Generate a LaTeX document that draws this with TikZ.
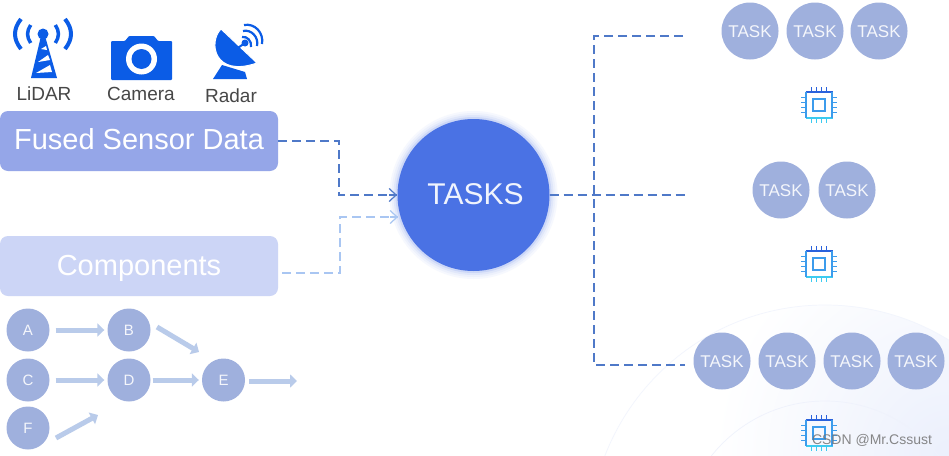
\documentclass[tikz,border=0pt]{standalone}
\usepackage{fontspec}
\setmainfont{Liberation Sans}
\usetikzlibrary{arrows.meta,calc}
\definecolor{icon}{HTML}{0B5CE6}
\definecolor{fused}{HTML}{95A6E8}
\definecolor{comp}{HTML}{CCD5F6}
\definecolor{disc}{HTML}{9FB0DD}
\definecolor{hub}{HTML}{4A72E4}
\definecolor{dashdark}{HTML}{4F79C8}
\definecolor{dashlight}{HTML}{A9C6F2}
\definecolor{flow}{HTML}{B9CBEA}
\definecolor{chiptop}{HTML}{2A62DC}
\definecolor{chipmid}{HTML}{3C9CEC}
\definecolor{chipbot}{HTML}{3CCBF0}
\tikzset{
  databox/.style={rounded corners=8pt,minimum width=278pt,minimum height=60pt,inner sep=0pt,text=white,font=\fontsize{29}{29}\selectfont},
  letter/.style={circle,fill=disc,minimum size=43pt,inner sep=0pt,text=white!88!disc,font=\fontsize{15}{15}\selectfont},
  taskdisc/.style={circle,fill=disc,minimum size=57pt,inner sep=0pt,text=white!88!disc,text height=14pt,font=\fontsize{17}{17}\selectfont},
  icontext/.style={text=black!72,inner sep=0pt,font=\fontsize{19}{19}\selectfont},
  darkdash/.style={dashdark,line width=1.3pt,dash pattern=on 9pt off 5pt},
  lightdash/.style={dashlight,line width=1.3pt,dash pattern=on 9pt off 5pt},
  flowarrow/.style={flow,line width=5pt,-{Triangle[length=7pt,width=13pt]}},
  chip/.pic={
    \foreach \k in {-7.5,-2.5,2.5,7.5}{
      \draw[chiptop,line width=1.1pt] (\k,-18) -- (\k,-13);
      \draw[chipbot,line width=1.1pt] (\k,13) -- (\k,18);
      \draw[chipmid,line width=1.1pt] (-18,\k) -- (-13,\k);
      \draw[chipmid,line width=1.1pt] (13,\k) -- (18,\k);
    }
    \draw[chiptop,line width=1.5pt] (-13.5,-13) -- (13.5,-13);
    \draw[chipbot,line width=1.5pt] (-13.5,13) -- (13.5,13);
    \draw[chipmid,line width=1.5pt] (-13,-13) -- (-13,13);
    \draw[chipmid,line width=1.5pt] (13,-13) -- (13,13);
    \draw[chipmid,line width=1.3pt] (-6,-6) rectangle (6,6);
  }
}

\begin{document}
\begin{tikzpicture}[x=1pt,y=-1pt]
  \useasboundingbox (0,0) rectangle (949,455);
  \fill[white] (0,0) rectangle (949,455);

  % pale corner, bottom right, with two faint arcs
  \begin{scope}
    \clip (825,541) circle (236);
    \shade[inner color=hub!11!white,outer color=white] (949,455) circle (235);
  \end{scope}
  \begin{scope}
    \clip (0,0) rectangle (949,455);
    \draw[hub!7!white,line width=0.7pt] (825,541) circle (236);
    \draw[hub!9!white,line width=0.7pt] (825,546) circle (145);
  \end{scope}

  % sensor icons
  \fill[icon] (43,34) circle (5.5);
  \fill[icon] (41,36) -- (45,36) -- (57,78) -- (31,78) -- cycle;
  \fill[white] (41,49) -- (46,46) -- (47,50) -- cycle;
  \fill[white] (38,62) -- (48,55) -- (50,60) -- cycle;
  \fill[white] (36,73) -- (50,65) -- (52,72) -- cycle;
  \foreach \s in {-1,1}{
    \draw[icon,line width=3.5pt] ($(43,34)+(\s*12.3,-9)$) .. controls ($(43,34)+(\s*16.5,-3)$) and ($(43,34)+(\s*16.5,3)$) .. ($(43,34)+(\s*12.3,9)$);
    \draw[icon,line width=4pt] ($(43,34)+(\s*22,-15)$) .. controls ($(43,34)+(\s*30,-5)$) and ($(43,34)+(\s*30,5)$) .. ($(43,34)+(\s*22,15)$);
  }
  \fill[icon,rounded corners=1pt] (111,41) -- (125,41) -- (129,36) -- (154,36) -- (158,41) -- (172,41) -- (172,80) -- (111,80) -- cycle;
  \fill[white] (141.5,59) circle (15.5);
  \fill[icon] (141.5,59) circle (10);
  \fill[icon] (213,79) -- (222,65) -- (245,72) -- (247,79) -- cycle;
  \fill[icon,draw=white,line width=1pt] (221,29) .. controls (208,42) and (214,78) .. (257,63) -- cycle;
  \draw[icon,line width=2pt] (232,52) -- (245,43);
  \fill[icon] (245,43) circle (3.5);
  \draw[icon,line width=2.2pt] (242,37) .. controls (247,36) and (252,41) .. (251,47);
  \draw[icon,line width=2.2pt] (243,31) .. controls (251,29) and (259,37) .. (257,46);
  \draw[icon,line width=2.2pt] (244,25) .. controls (255,23) and (264,33) .. (262,44);
  \node[icontext] (lidar) at (44,94) {LiDAR};
  \node[icontext] (camera) at (141,94) {Camera};
  \node[icontext] (radar) at (231,96) {Radar};

  % left boxes
  \node[databox,fill=fused,text depth=4pt] (sensor) at (139,141) {Fused Sensor Data};
  \node[databox,fill=comp,text height=25pt] (parts) at (139,266) {Components};

  % small graph under the boxes
  \node[letter] (A) at (28,330) {A};
  \node[letter] (B) at (129,330) {B};
  \node[letter] (C) at (28,380) {C};
  \node[letter] (D) at (129,380) {D};
  \node[letter] (E) at (223.5,380) {E};
  \node[letter] (F) at (28,428) {F};
  \coordinate (Bfrom) at (157,327);
  \coordinate (Bout) at (199,352);
  \coordinate (Efrom) at (249,381);
  \coordinate (Eout) at (297,381);
  \coordinate (Ffrom) at (56,438);
  \coordinate (Fout) at (98,415);
  \draw[flowarrow,shorten <=6pt,shorten >=3pt] (A) -- (B);
  \draw[flowarrow,shorten <=6pt,shorten >=3pt] (C) -- (D);
  \draw[flowarrow,shorten <=2pt,shorten >=3pt] (D) -- (E);
  \draw[flowarrow] (Bfrom) -- (Bout);
  \draw[flowarrow] (Efrom) -- (Eout);
  \draw[flowarrow] (Ffrom) -- (Fout);

  % hub with its glow
  \foreach \r/\t in {84/5,82/10,80/17,78/28}{
    \fill[hub!\t!white] (473.5,195) circle (\r);
  }
  \node[circle,fill=hub,minimum size=152pt,inner sep=0pt,text=white!92!hub,text depth=2pt,font=\fontsize{30}{30}\selectfont] (tasks) at (473.5,195) {\hspace*{4pt}TASKS};

  % dashed links into the hub
  \coordinate (inA) at (397,195);
  \coordinate (inB) at (398,217);
  \coordinate (kneeA) at (339,141);
  \coordinate (kneeB) at (340,273);
  \draw[darkdash] (sensor.east |- kneeA) -- (kneeA) -- (kneeA |- inA) -- (inA);
  \draw[dashdark,line width=1.2pt,-{Straight Barb[length=7pt,width=13pt]}] ($(inA)+(-8,0)$) -- (inA);
  \draw[lightdash] (282,273) -- (kneeB) -- (kneeB |- inB) -- (inB);
  \draw[dashlight,line width=1.2pt,-{Straight Barb[length=7pt,width=13pt]}] ($(inB)+(-8,0)$) -- (inB);

  % task groups
  \node[taskdisc] (t1) at (750,31) {TASK};
  \node[taskdisc] (t2) at (815,31) {TASK};
  \node[taskdisc] (t3) at (879,31) {TASK};
  \node[taskdisc] (t4) at (781,190) {TASK};
  \node[taskdisc] (t5) at (847,190) {TASK};
  \node[taskdisc] (t6) at (722,361) {TASK};
  \node[taskdisc] (t7) at (787,361) {TASK};
  \node[taskdisc] (t8) at (852,361) {TASK};
  \node[taskdisc] (t9) at (916,361) {TASK};
  \pic at (819,105) {chip};
  \pic at (819,264) {chip};
  \pic at (819,433) {chip};

  % dashed links out of the hub
  \coordinate (trunktop) at (594,36);
  \coordinate (trunkbot) at (594,365);
  \coordinate (endtop) at (683,36);
  \coordinate (endmid) at (686,195);
  \coordinate (endbot) at (685,365);
  \draw[darkdash] (endtop) -- (trunktop) -- (trunkbot) -- (endbot);
  \draw[darkdash] (tasks.east) -- (endmid);

  \node[text=black!55,opacity=0.85,inner sep=0pt,font=\fontsize{14}{14}\selectfont] (mark) at (872,440) {CSDN @Mr.Cssust};
\end{tikzpicture}
\end{document}
